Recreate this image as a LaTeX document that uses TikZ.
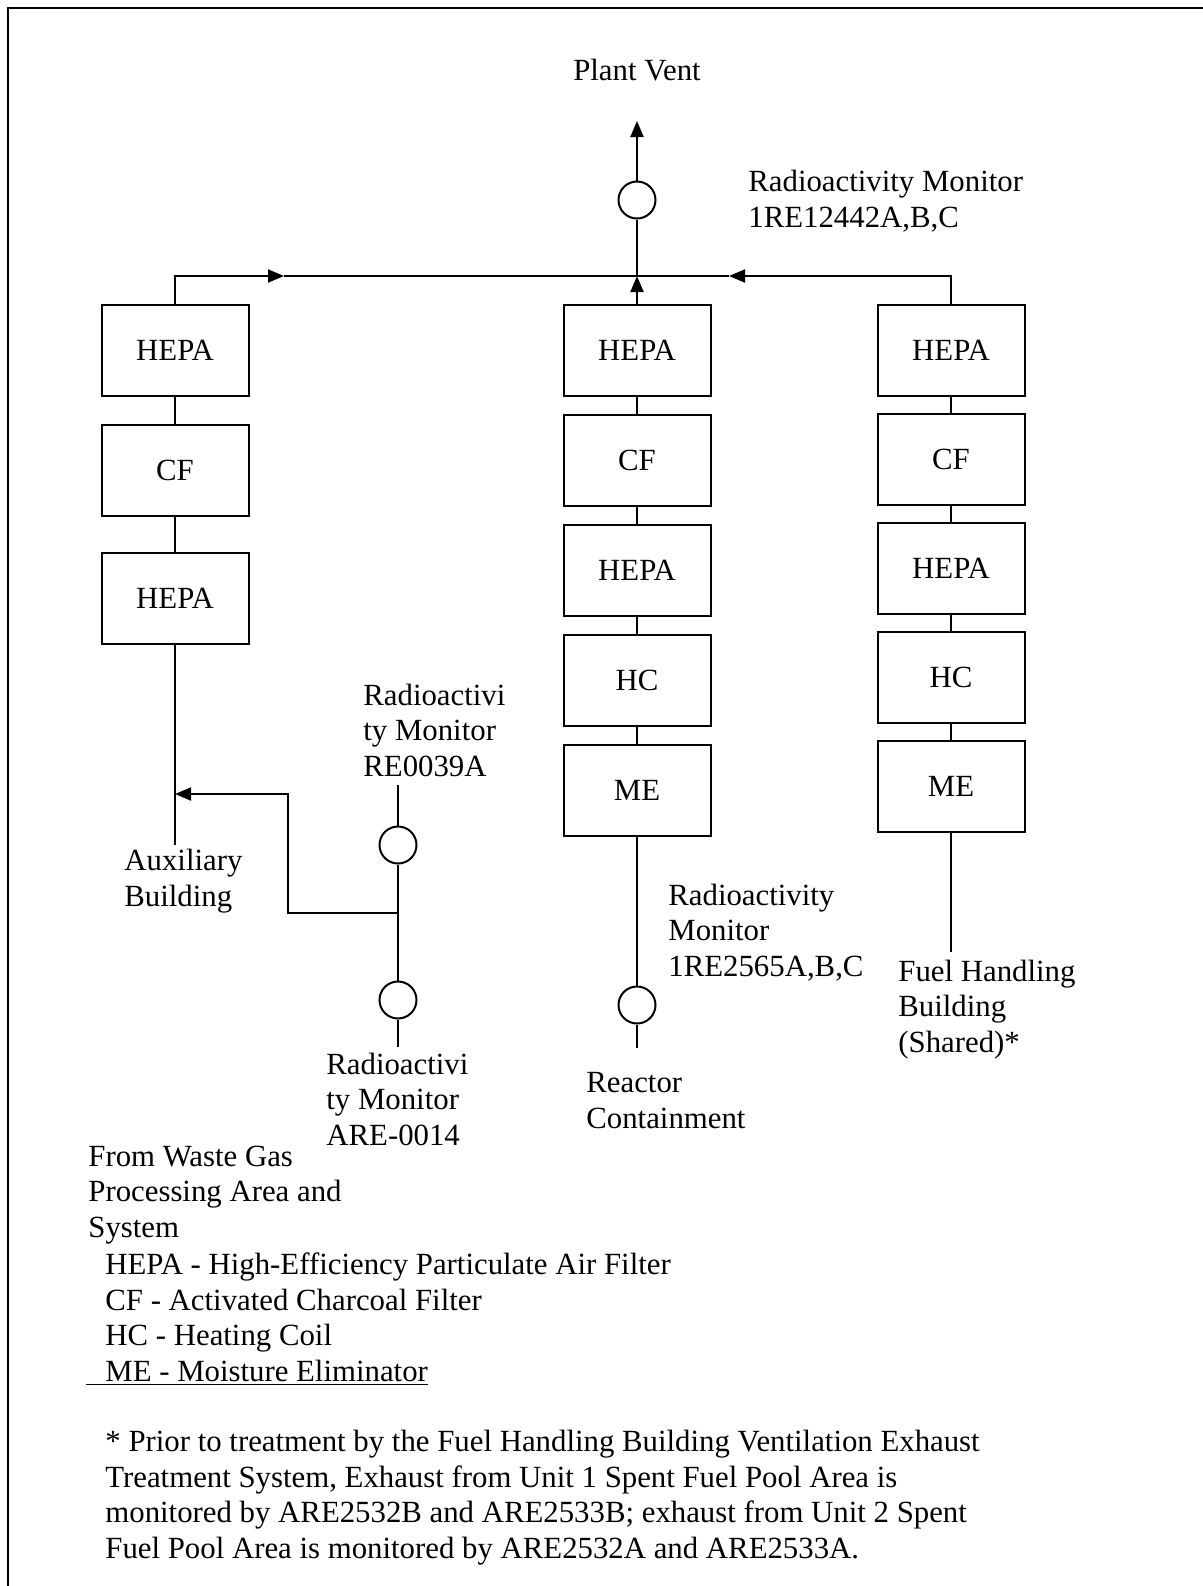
\documentclass[tikz,border=0pt]{standalone}
\usepackage{fontspec}
\setmainfont{Liberation Serif}
\usetikzlibrary{positioning,arrows.meta}

\begin{document}
\begin{tikzpicture}[x=0.5pt,y=-0.5pt,
  font=\fontsize{15.4}{17.7}\selectfont,
  filt/.style={draw,line width=1pt,minimum width=73.5pt,minimum height=45.5pt,inner sep=0pt},
  monitor/.style={draw,circle,line width=1pt,minimum size=18.5pt,inner sep=0pt},
  txt/.style={align=left,inner sep=0pt,anchor=base west},
  pipe/.style={line width=1pt},
  flow/.style={pipe,-{Triangle[length=8pt,width=6.5pt]}}]

  \useasboundingbox (0,0) rectangle (1203,1586);
  \draw[pipe] (8,1586) -- (8,8) -- (1203,8);

  % auxiliary building train
  \node[filt] (lhepa1) at (175,350) {HEPA};
  \node[filt] (lcf) [below=13.5pt of lhepa1] {CF};
  \node[filt] (lhepa2) [below=17.5pt of lcf] {HEPA};

  % reactor containment train
  \node[filt] (mhepa1) at (637,350) {HEPA};
  \node[filt] (mcf) [below=8.5pt of mhepa1] {CF};
  \node[filt] (mhepa2) [below=8.5pt of mcf] {HEPA};
  \node[filt] (mhc) [below=8.5pt of mhepa2] {HC};
  \node[filt] (mme) [below=8.5pt of mhc] {ME};

  % fuel handling building train
  \node[filt] (rhepa1) at (951,350) {HEPA};
  \node[filt] (rcf) [below=8pt of rhepa1] {CF};
  \node[filt] (rhepa2) [below=8pt of rcf] {HEPA};
  \node[filt] (rhc) [below=8pt of rhepa2] {HC};
  \node[filt] (rme) [below=8pt of rhc] {ME};

  \path[pipe] (lhepa1) edge (lcf) (lcf) edge (lhepa2);
  \path[pipe] (mhepa1) edge (mcf) (mcf) edge (mhepa2) (mhepa2) edge (mhc) (mhc) edge (mme);
  \path[pipe] (rhepa1) edge (rcf) (rcf) edge (rhepa2) (rhepa2) edge (rhc) (rhc) edge (rme);

  % header to plant vent
  \coordinate (arrL) at (284,276);
  \coordinate (busM) at (637,276);
  \coordinate (arrR) at (729,276);
  \coordinate (vent) at (637,121);
  \node[monitor] (vmon) at (637,200) {};
  \node[anchor=base] (ventlbl) at (637,80) {Plant Vent};
  \node[txt] (vmonlbl) at (748,227) {Radioactivity Monitor\\1RE12442A,B,C};

  \draw[flow] (lhepa1.north) |- (arrL);
  \draw[flow] (rhepa1.north) |- (arrR);
  \draw[pipe] (arrL) -- (arrR);
  \draw[flow] (mhepa1.north) -- (busM);
  \draw[pipe] (busM) -- (vmon.south);
  \draw[flow] (vmon.north) -- (vent);

  % auxiliary building and waste gas inlet
  \coordinate (auxJ) at (175,794);
  \coordinate (auxend) at (175,845);
  \coordinate (kink) at (288,794);
  \coordinate (wgJ) at (398,913);
  \coordinate (wgtop) at (398,785);
  \coordinate (wgend) at (398,1047);
  \node[monitor] (wmon1) at (398,845) {};
  \node[monitor] (wmon2) at (398,1000) {};

  \draw[pipe] (lhepa2.south) -- (auxend);
  \draw[flow] (wgJ) -| (kink) -- (auxJ);
  \draw[pipe] (wgtop) -- (wmon1.north);
  \draw[pipe] (wmon1.south) -- (wmon2.north);
  \draw[pipe] (wmon2.south) -- (wgend);

  \node[txt] (auxlbl) at (124,906) {Auxiliary\\Building};
  \node[txt] (wmon1lbl) at (363,776) {Radioactivi\\ty Monitor\\RE0039A};
  \node[txt] (wmon2lbl) at (326,1145) {Radioactivi\\ty Monitor\\ARE-0014};
  \node[txt] (wglbl) at (88,1237) {From Waste Gas\\Processing Area and\\System};

  % reactor containment inlet
  \coordinate (cend) at (637,1048);
  \node[monitor] (cmon) at (637,1005) {};
  \draw[pipe] (mme.south) -- (cmon.north);
  \draw[pipe] (cmon.south) -- (cend);
  \node[txt] (cmonlbl) at (668,976) {Radioactivity\\Monitor\\1RE2565A,B,C};
  \node[txt] (clbl) at (586,1128) {Reactor\\Containment};

  % fuel handling building inlet
  \coordinate (fend) at (951,952);
  \draw[pipe] (rme.south) -- (fend);
  \node[txt] (flbl) at (898,1052) {Fuel Handling\\Building\\(Shared)*};

  % legend and note
  \node[txt] (legend) at (105,1381) {HEPA - High-Efficiency Particulate Air Filter\\
    CF - Activated Charcoal Filter\\
    HC - Heating Coil\\
    \hspace*{-9.5pt}\underline{\hspace*{9.5pt}ME - Moisture Eliminator}};
  \node[txt] (note) at (105,1558) {* Prior to treatment by the Fuel Handling Building Ventilation Exhaust\\
    Treatment System, Exhaust from Unit 1 Spent Fuel Pool Area is\\
    monitored by ARE2532B and ARE2533B; exhaust from Unit 2 Spent\\
    Fuel Pool Area is monitored by ARE2532A and ARE2533A.};

\end{tikzpicture}
\end{document}
